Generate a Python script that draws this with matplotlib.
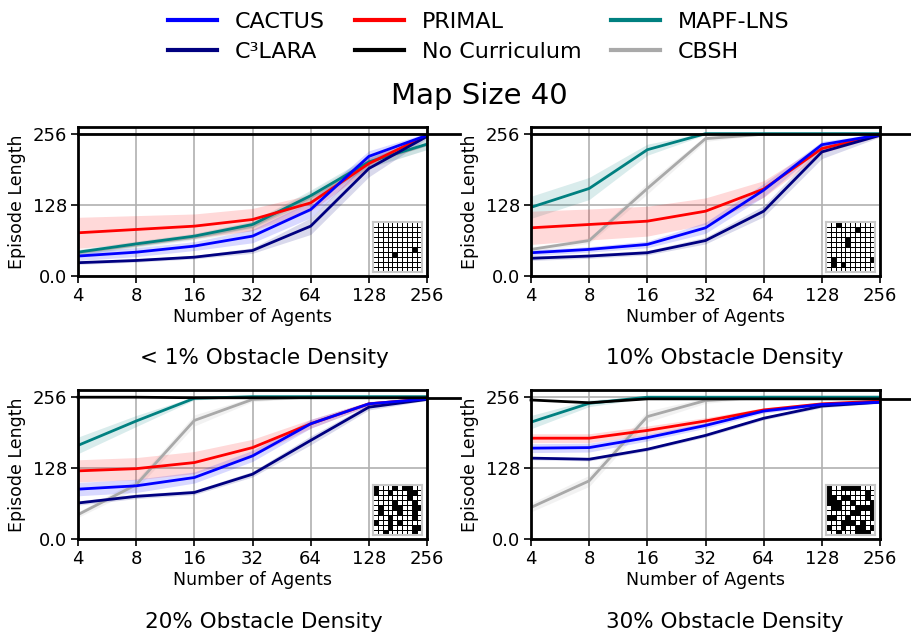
import numpy as np
import matplotlib.pyplot as plt
from matplotlib.lines import Line2D
from matplotlib.colors import ListedColormap

# number of agents on the x axis
agents = [4, 8, 16, 32, 64, 128, 256]
panel_titles = ["< 1% Obstacle Density", "10% Obstacle Density",
                "20% Obstacle Density", "30% Obstacle Density"]

# mean episode length per panel (one row per obstacle density)
cactus = [[36, 43, 54, 72, 120, 216, 254],
          [42, 48, 57, 87, 155, 237, 255],
          [90, 96, 111, 150, 208, 244, 253],
          [164, 165, 183, 205, 231, 243, 247]]
c3lara = [[24, 28, 34, 46, 90, 194, 252],
          [32, 36, 42, 64, 117, 224, 254],
          [65, 77, 84, 117, 178, 238, 252],
          [146, 144, 162, 187, 218, 240, 247]]
primal = [[78, 84, 90, 102, 132, 203, 254],
          [87, 93, 99, 117, 157, 230, 255],
          [123, 127, 138, 165, 208, 244, 253],
          [182, 182, 196, 213, 233, 244, 249]]
mapf_lns = [[43, 58, 72, 93, 145, 206, 238],
            [124, 158, 228, 257, 257, 257, 257],
            [169, 213, 254, 257, 257, 257, 257],
            [211, 245, 256, 256, 256, 256, 256]]
cbsh = [[42, 56, 70, 90, 142, 204, 237],
        [48, 64, 158, 248, 256, 256, 256],
        [44, 98, 214, 252, 256, 256, 256],
        [57, 105, 221, 250, 256, 256, 256]]
no_curriculum = [[256, 256, 256, 256, 256, 256, 256],
                 [256, 256, 256, 256, 256, 256, 256],
                 [256, 256, 255, 255, 255, 255, 255],
                 [251, 246, 253, 253, 253, 253, 253]]

# spread used for the shaded bands
cactus_sd = [[8, 8, 8, 12, 15, 10, 4],
             [5, 5, 6, 10, 12, 6, 3],
             [12, 12, 10, 10, 8, 4, 2],
             [8, 8, 6, 5, 4, 3, 2]]
c3lara_sd = [[3, 3, 3, 5, 15, 15, 4],
             [4, 4, 4, 6, 10, 12, 3],
             [4, 4, 4, 5, 8, 5, 2],
             [3, 3, 3, 3, 3, 3, 2]]
primal_sd = [[28, 25, 22, 20, 15, 10, 4],
             [30, 28, 27, 24, 15, 8, 3],
             [20, 20, 20, 15, 8, 4, 2],
             [8, 8, 8, 6, 4, 3, 2]]
mapf_lns_sd = [[5, 5, 5, 6, 10, 10, 10],
               [20, 20, 10, 2, 1, 1, 1],
               [15, 10, 3, 1, 1, 1, 1],
               [12, 6, 2, 1, 1, 1, 1]]
cbsh_sd = [[5, 5, 5, 8, 10, 10, 8],
           [4, 5, 10, 5, 1, 1, 1],
           [5, 8, 10, 4, 1, 1, 1],
           [8, 10, 10, 5, 1, 1, 1]]

# example maps shown in the corner of each panel ("#" = obstacle)
maps = [
    ["..........",
     "..........",
     "..........",
     "..........",
     "..........",
     "........#.",
     "....#.....",
     "..........",
     "..........",
     ".........."],
    ["..#.......",
     "......#...",
     "..........",
     "....#.....",
     "....#.....",
     "..........",
     "..........",
     ".#.......#",
     ".#.#......",
     ".........."],
    ["#...#.##..",
     "#..#...##.",
     ".......#..",
     "....#...#.",
     ".#..##..##",
     ".#...#..#.",
     "...#....#.",
     "#..#.#....",
     "...#....##",
     "..#.....#."],
    ["#..####...",
     "#.......#.",
     "##.##...#.",
     "###..#...#",
     ".##...####",
     ".....##..#",
     "##..#....#",
     "...###.#..",
     "#..#..##.#",
     "..#...###."],
]

series = [
    ("CBSH", cbsh, cbsh_sd, "darkgray"),
    ("MAPF-LNS", mapf_lns, mapf_lns_sd, "teal"),
    ("PRIMAL", primal, primal_sd, "red"),
    ("C³LARA", c3lara, c3lara_sd, "navy"),
    ("CACTUS", cactus, cactus_sd, "blue"),
]

plt.rcParams["font.family"] = "DejaVu Sans"

W, H = 911, 634
fig = plt.figure(figsize=(W / 100, H / 100), dpi=100)

# axes boxes in pixels: left, top
boxes = [(78, 127), (531, 127), (78, 390), (531, 390)]
ax_w, ax_h = 349, 149
title_pos = [(264, 364), (725, 364), (264, 628), (725, 628)]

x = np.array(agents)
for i, (left, top) in enumerate(boxes):
    ax = fig.add_axes([left / W, 1 - (top + ax_h) / H, ax_w / W, ax_h / H])
    ax.set_xscale("log", base=2)

    for name, mean, sd, color in series:
        m = np.array(mean[i], dtype=float)
        s = np.array(sd[i], dtype=float)
        ax.fill_between(x, m - s, m + s, color=color, alpha=0.15, linewidth=0)
        ax.plot(x, m, color=color, linewidth=2)

    # no-curriculum baseline runs a little past the right spine
    nc = no_curriculum[i]
    ax.plot(x, nc, color="black", linewidth=2, clip_on=False, zorder=5)
    ax.plot([agents[-1], agents[-1] * 2 ** 0.56], [nc[-1], nc[-1]],
            color="black", linewidth=2, clip_on=False, zorder=5)

    ax.set_xlim(4, 256)
    ax.set_ylim(0, 269)
    ax.set_xticks(agents)
    ax.set_xticklabels([str(a) for a in agents])
    ax.minorticks_off()
    ax.set_yticks([0, 128, 256])
    ax.set_yticklabels(["0.0", "128", "256"])
    ax.tick_params(labelsize=13, length=5, width=1.2, pad=3)
    ax.grid(True, color="#b0b0b0", linewidth=1.2)
    ax.set_axisbelow(True)
    for sp in ax.spines.values():
        sp.set_linewidth(2)
    ax.set_xlabel("Number of Agents", fontsize=12.5, labelpad=2)
    ax.set_ylabel("Episode Length", fontsize=12.5, labelpad=5)

    # obstacle map thumbnail
    grid = np.array([[1 if c == "#" else 0 for c in row] for row in maps[i]])
    ins = ax.inset_axes([0.845, 0.03, 0.14, 0.33])
    ins.pcolormesh(grid, cmap=ListedColormap(["white", "black"]),
                   edgecolors="black", linewidth=0.6, vmin=0, vmax=1)
    ins.set_xlim(0, grid.shape[1])
    ins.set_ylim(grid.shape[0], 0)
    ins.set_xticks([])
    ins.set_yticks([])
    for sp in ins.spines.values():
        sp.set_color("#c8c8c8")
        sp.set_linewidth(1.5)

    tx, ty = title_pos[i]
    fig.text(tx / W, 1 - ty / H, panel_titles[i], ha="center", va="baseline",
             fontsize=15.5)

fig.text(479 / W, 1 - 104 / H, "Map Size 40", ha="center", va="baseline",
         fontsize=21)

handles = [Line2D([], [], color="blue", linewidth=3),
           Line2D([], [], color="navy", linewidth=3),
           Line2D([], [], color="red", linewidth=3),
           Line2D([], [], color="black", linewidth=3),
           Line2D([], [], color="teal", linewidth=3),
           Line2D([], [], color="darkgray", linewidth=3)]
labels = ["CACTUS", "C³LARA", "PRIMAL", "No Curriculum", "MAPF-LNS", "CBSH"]
fig.legend(handles, labels, ncol=3, loc="upper center",
           bbox_to_anchor=(479 / W, 1.0), frameon=False, fontsize=16,
           handlelength=2.2, handletextpad=0.8, columnspacing=1.35,
           labelspacing=0.45, borderpad=0.05)

fig.savefig("out.png", dpi=100)
